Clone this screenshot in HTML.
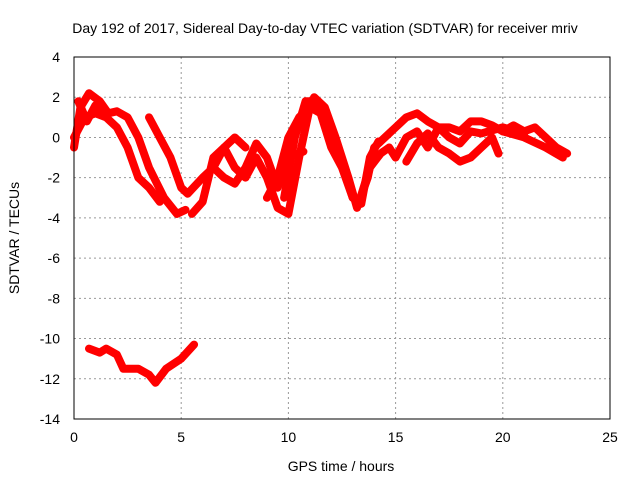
<!DOCTYPE html>
<html><head><meta charset="utf-8"><style>
body{margin:0;background:#fff;}
svg text{font-family:"Liberation Sans",sans-serif;font-size:14px;fill:#000;}
</style></head><body>
<svg id="c" width="640" height="480">
<text x="325" y="33" text-anchor="middle">Day 192 of 2017, Sidereal Day-to-day VTEC variation (SDTVAR) for receiver mriv</text>
<text x="341" y="471" text-anchor="middle">GPS time / hours</text>
<text transform="translate(19,238) rotate(-90)" text-anchor="middle">SDTVAR / TECUs</text>
<g id="grid"></g><g id="marks"></g>
<rect x="74" y="57" width="536" height="362" fill="none" stroke="#000"/>
</svg>
<script>
const xTicks=[0,5,10,15,20,25];
const yTicks=[4,2,0,-2,-4,-6,-8,-10,-12,-14];
const trackA_x=[0,0.3,0.7,1.2,1.6,2.0,2.5,3.0,3.5,4.2,4.8,5.2];
const trackA_y=[-0.5,1.5,2.2,1.8,1.2,1.3,1.0,0,-1.5,-3,-3.8,-3.6];
const trackB_x=[0,0.5,1,1.5,2,2.5,3.0,3.5,4.0];
const trackB_y=[0,1,1.2,1.0,0.5,-0.5,-2.0,-2.5,-3.2];
const trackC_x=[3.5,4,4.5,5,5.3,6,6.5,7,7.5,8];
const trackC_y=[1,0,-1,-2.5,-2.8,-2,-1.5,-0.5,0,-0.5];
const trackD_x=[5.5,6,6.5,7,7.5,8,8.5,9,9.5,10,10.5,11,11.2,11.7,12.2,12.8,13.2,13.7,14,14.5,15,15.5,16,16.5,17,17.5,18,18.5,19,19.5,20,21,22,22.8];
const trackD_y=[-3.8,-3.2,-1,-0.5,-1.5,-2,-1,-2,-3.5,-3.8,-1,1.5,2,1.5,0,-2,-3.5,-2,-0.5,0,0.5,1,1.2,0.8,0.5,0.5,0.3,0.8,0.8,0.6,0.3,0,-0.5,-1];
const trackE_x=[6.5,7,7.5,8,8.5,9,9.5,10,10.7];
const trackE_y=[-1.5,-2,-2.3,-1.5,-0.3,-1,-2.5,-1,-0.7];
const trackF_x=[9,9.5,10,10.5,11,11.5,12,12.5,13,13.3,13.8,14.3,14.7,15,15.5,16,16.5,17,17.5,18,18.5,19,20,21];
const trackF_y=[-3,-2,0,1,1.5,1.2,-0.5,-1.5,-3,-3.2,-1.5,-0.8,-0.5,-1,0,0.3,-0.5,0.5,0,-0.3,0.3,0.2,0.5,0.2];
const trackG_x=[15.5,16,16.5,17,17.5,18,18.5,19,19.5,19.8];
const trackG_y=[-1.2,-0.3,0.2,-0.5,-0.8,-1.2,-1,-0.5,0,-0.8];
const trackH_x=[0.7,1.2,1.5,2,2.3,3,3.5,3.8,4.3,5,5.6];
const trackH_y=[-10.5,-10.7,-10.5,-10.8,-11.5,-11.5,-11.8,-12.2,-11.5,-11,-10.3];
const trackI_x=[20,20.5,21,21.5,22,22.5,23];
const trackI_y=[0.3,0.6,0.3,0.5,0,-0.5,-0.8];
const trackJ_x=[9.8,10.3,10.8,11.3,11.8,12.4,13,13.4,13.8,14.2];
const trackJ_y=[-3,0,1.8,1.8,1,-1,-3,-3.3,-1,-0.2];
const trackK_x=[0.2,0.6,1.0,1.4];
const trackK_y=[1.8,0.8,1.6,1.2];
const tracks=[[trackA_x,trackA_y],[trackB_x,trackB_y],[trackC_x,trackC_y],[trackD_x,trackD_y],[trackE_x,trackE_y],[trackF_x,trackF_y],[trackG_x,trackG_y],[trackH_x,trackH_y],[trackI_x,trackI_y],[trackJ_x,trackJ_y],[trackK_x,trackK_y]];
const NS='http://www.w3.org/2000/svg';
const X=h=>74+h*536/25, Y=v=>57+(4-v)*362/18;
const grid=document.getElementById('grid'), marks=document.getElementById('marks');
function mk(t,a,p){const e=document.createElementNS(NS,t);for(const k in a)e.setAttribute(k,a[k]);p.appendChild(e);return e;}
xTicks.forEach(t=>{
  const l=mk('line',{x1:X(t),x2:X(t),y1:57,y2:419,stroke:'#999','stroke-dasharray':'2,3'},grid);
  
  
  const s=mk('text',{x:X(t),y:442,'text-anchor':'middle'},grid);s.textContent=t;
  
  
});
yTicks.forEach(t=>{
  const l=mk('line',{x1:74,x2:610,y1:Y(t),y2:Y(t),stroke:'#999','stroke-dasharray':'2,3'},grid);
  
  
  const s=mk('text',{x:60,y:Y(t)+5,'text-anchor':'end'},grid);s.textContent=t;
  
  
});
tracks.forEach(([xs,ys])=>{
  const pts=xs.map((x,i)=>X(x)+','+Y(ys[i])).join(' ');
  const p=mk('polyline',{points:pts,fill:'none',stroke:'#f00','stroke-width':8,'stroke-linejoin':'round','stroke-linecap':'round'},marks);
  
  
});
</script>
</body></html>
